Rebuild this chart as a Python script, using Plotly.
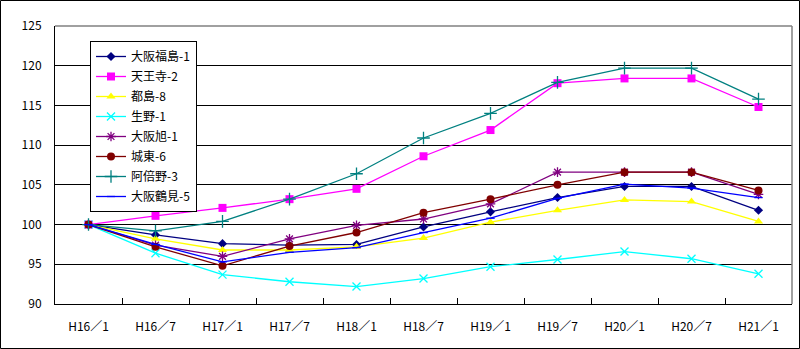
import plotly.graph_objects as go

# Survey periods (category axis)
periods = ["H16／1", "H16／7", "H17／1", "H17／7", "H18／1", "H18／7",
           "H19／1", "H19／7", "H20／1", "H20／7", "H21／1"]

# Index values per area (H16/1 = 100)
fukushima = [100, 98.7, 97.6, 97.4, 97.5, 99.7, 101.6, 103.4, 104.8, 104.8, 101.8]
tennoji = [100, 101.1, 102.1, 103.2, 104.5, 108.6, 111.9, 117.8, 118.4, 118.4, 114.8]
miyakojima = [100, 98.2, 96.8, 96.8, 97.2, 98.3, 100.3, 101.8, 103.1, 102.9, 100.4]
ikuno = [100, 96.4, 93.7, 92.8, 92.2, 93.2, 94.7, 95.6, 96.6, 95.7, 93.8]
asahi = [100, 97.4, 96.0, 98.2, 99.9, 100.7, 102.6, 106.6, 106.6, 106.6, 103.8]
joto = [100, 97.2, 94.8, 97.3, 99.0, 101.5, 103.2, 105.0, 106.6, 106.6, 104.3]
abeno = [100, 99.2, 100.4, 103.2, 106.4, 110.9, 114.0, 117.9, 119.7, 119.7, 115.8]
tsurumi = [100, 97.5, 95.3, 96.5, 97.1, 99.0, 100.8, 103.3, 105.1, 104.6, 103.4]

series = [
    ("大阪福島-1", fukushima, "#000080", "diamond", 7),
    ("天王寺-2", tennoji, "#FF00FF", "square", 8),
    ("都島-8", miyakojima, "#FFFF00", "triangle-up", 8),
    ("生野-1", ikuno, "#00FFFF", "x-thin", 8),
    ("大阪旭-1", asahi, "#800080", "asterisk", 8),
    ("城東-6", joto, "#800000", "circle", 8),
    ("阿倍野-3", abeno, "#008080", "cross-thin", 9),
    ("大阪鶴見-5", tsurumi, "#0000FF", "line-ew", 6),
]

FONT = "Noto Sans CJK JP, Arial, sans-serif"

fig = go.Figure()
for name, vals, color, symbol, size in series:
    thin = symbol in ("x-thin", "asterisk", "cross-thin", "line-ew")
    fig.add_trace(go.Scatter(
        x=periods, y=vals, name=name, legendgroup=name, mode="lines+markers",
        line=dict(color=color, width=1.3),
        marker=dict(symbol=symbol, size=size, color=color,
                    line=dict(color=color, width=1.3 if thin else 0)),
    ))

L, R, T, B = 55, 8, 26, 45
W, H = 800, 349
pw, ph = W - L - R, H - T - B


def px(x):
    return (x - L) / pw


def py(y):
    return (H - B - y) / ph


fig.update_layout(
    width=W, height=H,
    margin=dict(l=L, r=R, t=T, b=B, autoexpand=False),
    paper_bgcolor="white", plot_bgcolor="white",
    font=dict(family=FONT, size=12, color="black"),
    showlegend=True,
    legend=dict(
        x=px(90), y=py(41), xanchor="left", yanchor="top",
        bgcolor="white", bordercolor="black", borderwidth=1,
        font=dict(family=FONT, size=12, color="black"),
        itemwidth=30, tracegroupgap=1,
    ),
    xaxis=dict(
        type="category", range=[-0.5, len(periods) - 0.5],
        showgrid=False, tickson="boundaries", automargin=False,
        ticks="inside", ticklen=6, tickcolor="black", tickwidth=1,
        showline=True, linecolor="black", linewidth=1,
        ticklabelstandoff=12, tickfont=dict(size=12),
    ),
    yaxis=dict(
        range=[90, 125], dtick=5, showgrid=True, gridcolor="black", gridwidth=1,
        showline=True, linecolor="black", linewidth=1, ticks="", automargin=False,
        ticklabelstandoff=10, tickfont=dict(size=12), zeroline=False,
    ),
    shapes=[
        # plot area frame (top and right edges in grey)
        dict(type="line", xref="paper", yref="paper", x0=0, x1=1, y0=1, y1=1,
             line=dict(color="#808080", width=1.5), layer="above"),
        dict(type="line", xref="paper", yref="paper", x0=1, x1=1, y0=0, y1=1,
             line=dict(color="#808080", width=1.5), layer="above"),
        # outer chart border
        dict(type="rect", xref="paper", yref="paper",
             x0=px(0.5), x1=px(799.5), y0=py(348.5), y1=py(0.5),
             line=dict(color="black", width=1), layer="above"),
    ],
)

fig.write_html("out.html")
